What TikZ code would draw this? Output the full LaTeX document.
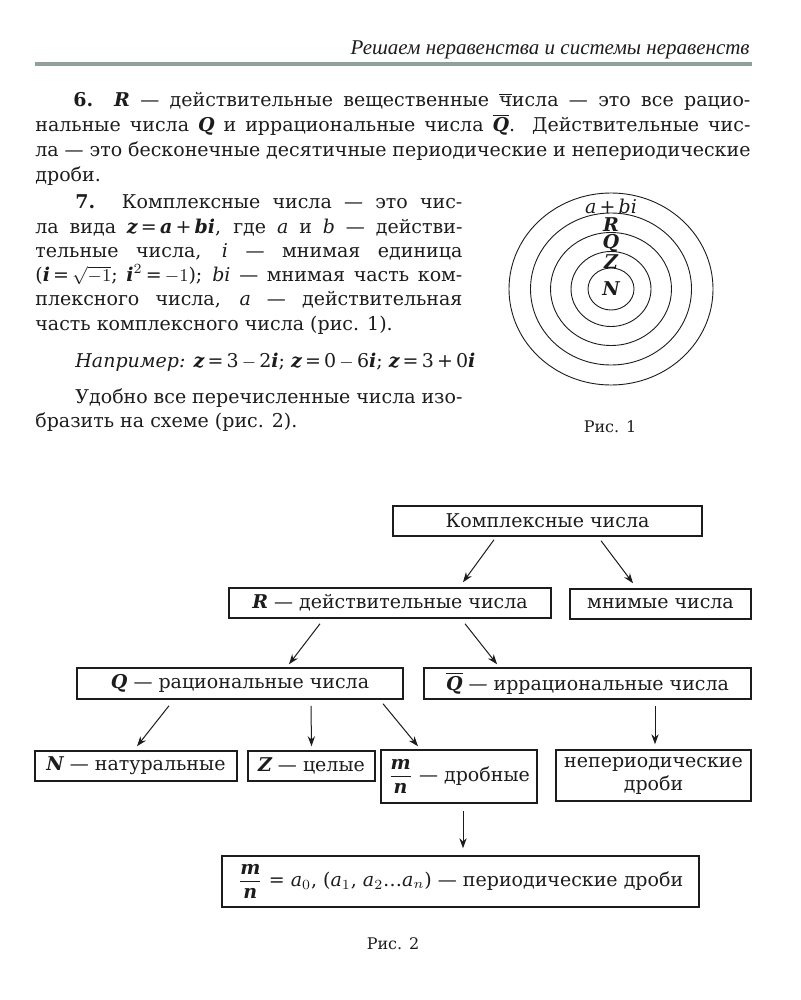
\documentclass[tikz,border=0pt]{standalone}
\usepackage{amsmath}
\usepackage{fontspec}
\setmainfont{DejaVu Serif}
\newfontfamily\headfont{Liberation Serif}
\usetikzlibrary{positioning,arrows.meta,calc}
\definecolor{ink}{HTML}{1C1C1C}
\definecolor{rulegray}{HTML}{8FA19C}
\newcommand{\bi}[1]{{\bfseries\itshape #1}}
\newcommand{\qbar}{$\overline{\mbox{\bi{Q}}}$}
\newcommand{\mn}{$\dfrac{\mbox{\bi{m}}}{\mbox{\bi{n}}}$}
\newcommand{\jl}[1]{\hbox to\hsize{#1}}
\newcommand{\lastl}[1]{\hbox to\hsize{#1\hfil}}
\tikzset{
  body/.style  ={font=\fontsize{9.5}{12}\selectfont,text=ink},
  para/.style  ={body,anchor=base west,inner sep=0pt},
  nbox/.style  ={body,draw=ink,line width=0.75pt,inner sep=1pt,align=center},
  arr/.style   ={-{Stealth[length=5pt,width=3.6pt]},line width=0.5pt,ink},
  ring/.style  ={draw=ink,line width=0.45pt},
  lbl/.style   ={body,inner sep=0pt},
  figcap/.style={font=\fontsize{8}{9}\selectfont,text=ink},
}

\begin{document}
\begin{tikzpicture}[x=0.5pt,y=-0.5pt]
 \useasboundingbox (0,0) rectangle (800,1000);
 % page head
 \node[anchor=base east,inner sep=0pt,font=\headfont\itshape\fontsize{10.5}{12}\selectfont,text=ink]
   (head) at (750,55) {Решаем неравенства и системы неравенств};
 \fill[rulegray] (35,62) rectangle (752,66);
 % text
 \node[para] (p6) at (35,107) {\parbox[t]{357.5pt}{\baselineskip=12.5pt
   \jl{\hspace*{19pt}\textbf{6.} \bi{R} — действительные вещественные $\overline{\mbox{ч}}$исла — это все рацио-}
   \jl{нальные числа \bi{Q} и иррациональные числа \qbar. Действительные чис-}
   \jl{ла — это бесконечные десятичные периодические и непериодические}
   \lastl{дроби.}}};
 \node[para] (p7) at (35,209) {\parbox[t]{213.5pt}{\baselineskip=12.1pt \lineskiplimit=-5pt
   \jl{\hspace*{20pt}\textbf{7.} Комплексные числа — это чис-}
   \jl{ла вида \bi{z}\,=\,\bi{a}\,+\,\bi{bi}, где \textit{a} и \textit{b} — действи-}
   \jl{тельные числа, \textit{i} — мнимая единица}
   \jl{(\bi{i}\,=\,$\sqrt{-1}$;\ \bi{i}$^2$\,=\,$-1$); \textit{bi} — мнимая часть ком-}
   \jl{плексного числа, \textit{a} — действительная}
   \lastl{часть комплексного числа (рис. 1).}}};
 \node[para] (ex) at (75,367) {\textit{Например:} \bi{z}\,=\,3\,$-$\,2\bi{i}; \bi{z}\,=\,0\,$-$\,6\bi{i}; \bi{z}\,=\,3\,+\,0\bi{i}};
 \node[para] (p8) at (35,403) {\parbox[t]{213.5pt}{\baselineskip=12.1pt
   \jl{\hspace*{20pt}Удобно все перечисленные числа изо-}
   \lastl{бразить на схеме (рис. 2).}}};

 % fig. 1
 \coordinate (ctr) at (611,289);
 \foreach \rx/\ry in {102/96,80.5/76,60.5/56.5,40/37.5,23/21}
   \draw[ring] (ctr) ellipse ({\rx*0.5pt} and {\ry*0.5pt});
 \node[lbl] (lc) at (611,206) {\textit{a}\,+\,\textit{bi}};
 \node[lbl] (lr) at (611,225) {\bi{R}};
 \node[lbl] (lq) at (611,243) {\bi{Q}};
 \node[lbl] (lz) at (611,262) {\bi{Z}};
 \node[lbl] (ln) at (611,289) {\bi{N}};
 \node[figcap] (cap1) at (610,427) {Рис. 1};

 % fig. 2
 \node[nbox,minimum width=154.5pt,minimum height=15pt] (cplx) at (547.5,521) {Комплексные числа};
 \node[nbox,minimum width=161pt,minimum height=15pt] (real) at (390,603) {\bi{R} — действительные числа};
 \node[nbox,minimum width=90.5pt,minimum height=15pt] (imag) at (660.5,604) {мнимые числа};
 \node[nbox,minimum width=163pt,minimum height=15.5pt] (rat) at (240,683.5) {\bi{Q} — рациональные числа};
 \node[nbox,minimum width=163.5pt,minimum height=15.5pt] (irr) at (587.5,683.5) {\qbar{} — иррациональные числа};
 \node[nbox,minimum width=101pt,minimum height=15pt] (nat) at (136,766) {\bi{N} — натуральные};
 \node[nbox,minimum width=63.5pt,minimum height=15pt] (int) at (311.5,766) {\bi{Z} — целые};
 \node[nbox,minimum width=78pt,minimum height=26.5pt] (frac) at (459,776.5) {\mn{} — дробные};
 \node[nbox,minimum width=97.5pt,minimum height=25.5pt,font=\fontsize{9.5}{11.5}\selectfont] (nonper) at (653.5,775.5) {непериодические\\дроби};
 \node[nbox,minimum width=238.5pt,minimum height=25.5pt] (per) at (460.5,881.5)
   {\mn{} = \textit{a}$_0$, (\textit{a}$_1$, \textit{a}$_2$…\textit{a}$_n$) — периодические дроби};

 \draw[arr] ($(cplx.south)+(-53.5,3)$) -- ($(real.north)+(73,-5)$);
 \draw[arr] ($(cplx.south)+(53.5,4)$) -- ($(imag.north)+(-27.5,-5)$);
 \draw[arr] ($(real.south)+(-70,5)$) -- ($(rat.north)+(49,-3)$);
 \draw[arr] ($(real.south)+(75,5)$) -- ($(irr.north)+(-90.5,-3)$);
 \draw[arr] ($(rat.south)+(-71,6)$) -- ($(nat.north)+(1,-4)$);
 \draw[arr] ($(rat.south)+(71,6)$) -- ($(int.north)+(0,-4)$);
 \draw[arr] ($(rat.south)+(143,4)$) -- ($(frac.north)+(-41,-3)$);
 \draw[arr] ($(irr.south)+(67.5,6)$) -- ($(nonper.north)+(1.5,-5)$);
 \draw[arr] ($(frac.south)+(4,7)$) -- ($(per.north)+(2.5,-7)$);
 \node[figcap] (cap2) at (393,944) {Рис. 2};
\end{tikzpicture}
\end{document}
